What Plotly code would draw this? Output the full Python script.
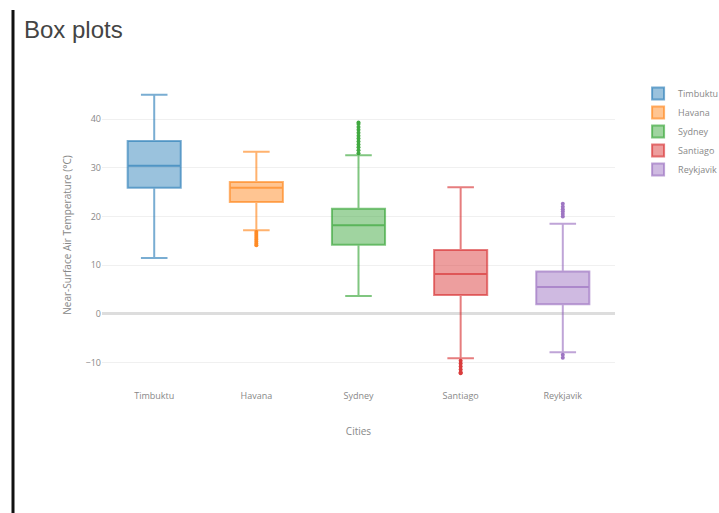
import plotly.graph_objects as go

cities = ["Timbuktu", "Havana", "Sydney", "Santiago", "Reykjavik"]
colors = ["#1f77b4", "#ff7f0e", "#2ca02c", "#d62728", "#9467bd"]
lowerfence = [11.5, 17.2, 3.7, -9.1, -7.9]
q1 = [25.9, 23.0, 14.2, 3.9, 2.0]
median = [30.4, 25.9, 18.2, 8.2, 5.5]
q3 = [35.5, 27.1, 21.6, 13.1, 8.7]
upperfence = [45.0, 33.3, 32.6, 26.0, 18.5]
outliers = [
    [],
    [16.8, 16.4, 16.0, 15.6, 15.2, 14.8, 14.4, 14.1],
    [33.0, 33.6, 34.2, 34.8, 35.4, 36.0, 36.6, 37.2, 37.8, 38.4, 39.0, 39.3],
    [-9.6, -10.2, -10.8, -11.4, -12.0, -12.2],
    [20.0, 20.5, 21.0, 21.5, 22.0, 22.6, -8.4, -9.0],
]

W, H = 719, 513
ML, MR, MT, MB = 102, 104, 85, 128


def rgba(h, a):
    h = h.lstrip("#")
    return "rgba(%d,%d,%d,%.2f)" % (int(h[0:2], 16), int(h[2:4], 16), int(h[4:6], 16), a)


fig = go.Figure()
for i, c in enumerate(cities):
    fig.add_trace(go.Box(
        x=[c], name=c, q1=[q1[i]], median=[median[i]], q3=[q3[i]],
        lowerfence=[lowerfence[i]], upperfence=[upperfence[i]],
        marker_color=colors[i], line=dict(color=rgba(colors[i], 0.6), width=2),
        fillcolor=rgba(colors[i], 0.45),
        boxpoints=False, width=0.52, whiskerwidth=0.5,
    ))
    if outliers[i]:
        fig.add_trace(go.Scatter(
            x=[c] * len(outliers[i]), y=outliers[i], mode="markers",
            marker=dict(color=colors[i], size=4, symbol="circle"),
            opacity=0.9, showlegend=False, hoverinfo="y",
        ))

fig.update_layout(
    width=W, height=H,
    paper_bgcolor="white", plot_bgcolor="white",
    margin=dict(l=ML, r=MR, t=MT, b=MB, autoexpand=False),
    title=dict(text="Box plots", x=24 / W, xref="container", xanchor="left",
               y=1, yref="container", yanchor="top",
               pad=dict(t=21),
               font=dict(family="Liberation Sans, Arial", size=24, color="#444")),
    showlegend=True,
    legend=dict(x=1.045, y=1.02, xanchor="left", yanchor="top",
                font=dict(family="Open Sans", size=9, color="#888"),
                tracegroupgap=0, itemsizing="constant"),
    font=dict(family="Open Sans", color="#888"),
)
fig.update_xaxes(title=dict(text="Cities", font=dict(size=10, color="#888"), standoff=26),
                 tickfont=dict(size=9, color="#888"), showgrid=False, ticklabelstandoff=4,
                 categoryorder="array", categoryarray=cities)
fig.update_yaxes(title=dict(text="Near-Surface Air Temperature (°C)", font=dict(size=10, color="#888"), standoff=12),
                 tickfont=dict(size=9, color="#888"), range=[-14.6, 47.0],
                 tickvals=[-10, 0, 10, 20, 30, 40], ticktext=["−10", "0", "10", "20", "30", "40"],
                 showgrid=True, gridcolor="#f0f0f0", gridwidth=1,
                 zeroline=True, zerolinecolor="#dddddd", zerolinewidth=3)
pw = W - ML - MR
ph = H - MT - MB
fig.add_shape(type="line", xref="paper", yref="paper",
              x0=(13 - ML) / pw, x1=(13 - ML) / pw, y0=-1, y1=(H - 10 - MB) / ph,
              line=dict(color="#111", width=3))
fig.write_html("out.html")
